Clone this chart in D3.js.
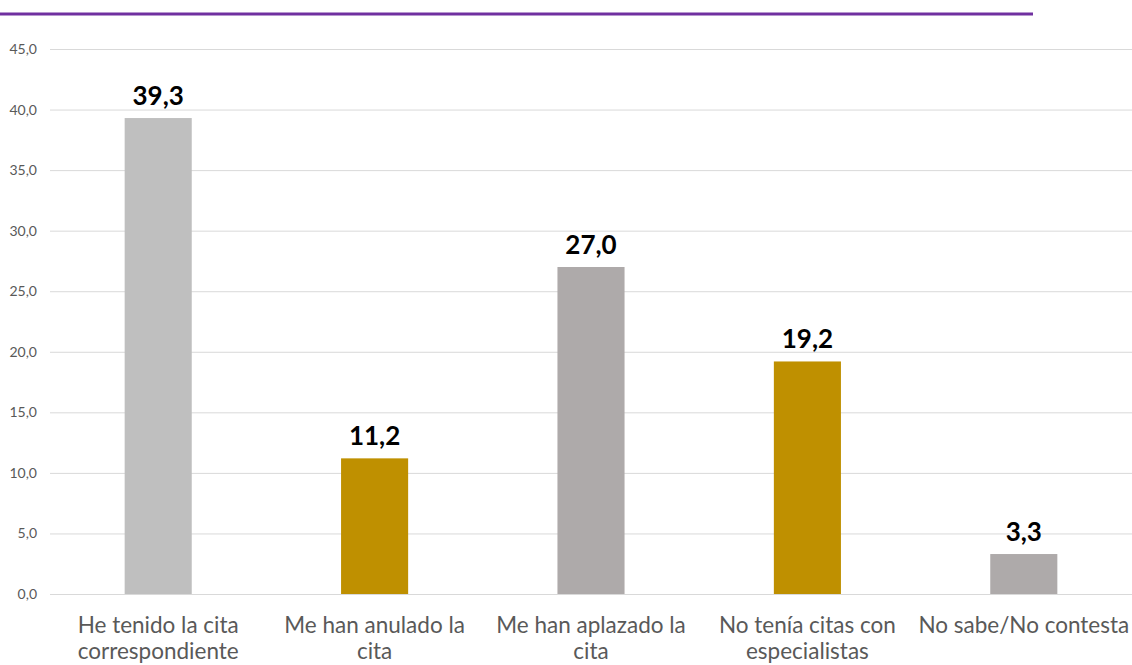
<!DOCTYPE html>
<html>
<head>
<meta charset="utf-8">
<script src="https://cdn.jsdelivr.net/npm/d3@7"></script>
<style>
  body { margin: 0; background: #fff; }
  svg { display: block; }
  svg text { font-family: Lato, "Open Sans", sans-serif; }
</style>
</head>
<body>
<div id="chart"></div>
<script>
// data
var categories = [
    "He tenido la cita\ncorrespondiente",
    "Me han anulado la\ncita",
    "Me han aplazado la\ncita",
    "No tenía citas con\nespecialistas",
    "No sabe/No contesta"
];
var values = [39.3, 11.2, 27.0, 19.2, 3.3];
var barColors = ["#BFBFBF", "#BF9000", "#AEAAAA", "#BF9000", "#AEAAAA"];
var yTicks = [0, 5, 10, 15, 20, 25, 30, 35, 40, 45];

var W = 1132, H = 665;
var m = {top: 49, right: 0, bottom: 71, left: 50};
var w = W - m.left - m.right;
var h = H - m.top - m.bottom;

var fmt = function(v) { return v.toFixed(1).replace(".", ","); };

var svg = d3.select("#chart").append("svg")
    .attr("width", W)
    .attr("height", H);

// purple title rule
svg.append("line")
    .attr("x1", 0).attr("x2", 1033)
    .attr("y1", 14).attr("y2", 14)
    .attr("stroke", "#7030A0")
    .attr("stroke-width", 3);

var g = svg.append("g")
    .attr("transform", "translate(" + m.left + "," + m.top + ")");

var x = d3.scaleBand().domain(d3.range(categories.length)).range([0, w])
    .paddingInner(0.69).paddingOuter(0.345);
var y = d3.scaleLinear().domain([0, 45]).range([h, 0]);

// gridlines + y labels
var yAxis = d3.axisLeft(y).tickValues(yTicks).tickSize(-w).tickFormat(fmt).tickPadding(13);
var ya = g.append("g").call(yAxis);
ya.select(".domain").remove();
ya.selectAll(".tick line").attr("stroke", "#D9D9D9").attr("stroke-width", 1);
ya.selectAll(".tick text")
    .attr("fill", "#595959")
    .style("font-size", "14px");

// bars
g.selectAll("rect.bar")
    .data(values)
    .enter().append("rect")
    .attr("class", "bar")
    .attr("x", function(d, i) { return x(i); })
    .attr("width", x.bandwidth())
    .attr("y", function(d) { return y(d); })
    .attr("height", function(d) { return h - y(d); })
    .attr("fill", function(d, i) { return barColors[i]; });

// value labels
g.selectAll("text.val")
    .data(values)
    .enter().append("text")
    .attr("class", "val")
    .attr("x", function(d, i) { return x(i) + x.bandwidth() / 2; })
    .attr("y", function(d) { return y(d) - 13; })
    .attr("text-anchor", "middle")
    .attr("fill", "#000")
    .style("font-size", "26px")
    .style("font-weight", "bold")
    .text(fmt);

// category labels
var xAxis = d3.axisBottom(x).tickSize(0).tickFormat("");
var xa = g.append("g").attr("transform", "translate(0," + h + ")").call(xAxis);
xa.select(".domain").remove();
xa.selectAll(".tick").each(function(d) {
    var t = d3.select(this).append("text")
        .attr("text-anchor", "middle")
        .attr("fill", "#595959")
        .style("font-size", "22.5px");
    categories[d].split("\n").forEach(function(line, k) {
        t.append("tspan").attr("x", 0).attr("y", 39 + k * 26).text(line);
    });
});
</script>
</body>
</html>
